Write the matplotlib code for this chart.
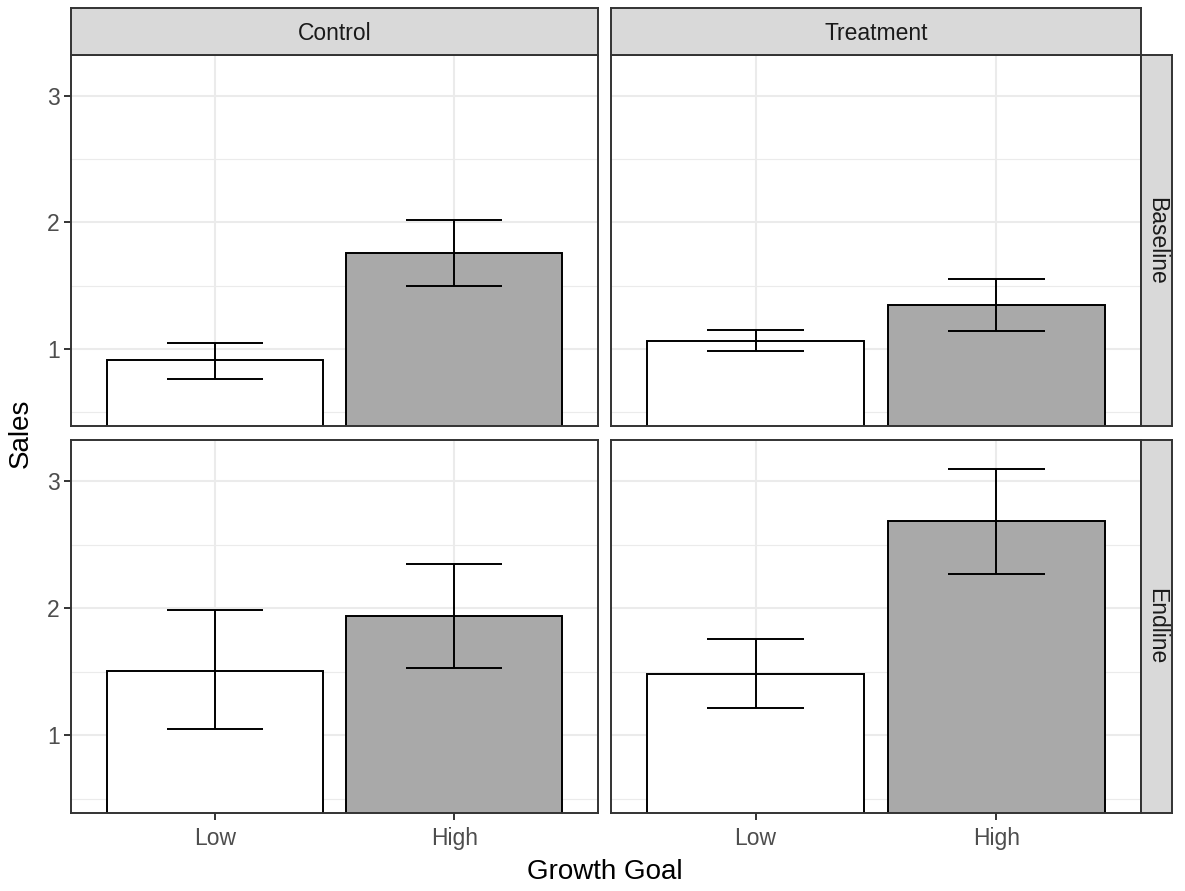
import matplotlib
matplotlib.use("Agg")
import matplotlib.pyplot as plt
import numpy as np

plt.rcParams['font.family'] = ['Liberation Sans', 'DejaVu Sans']

# Data
goals = ["Low", "High"]
groups = ["Control", "Treatment"]
waves = ["Baseline", "Endline"]
yticks = [1, 2, 3]
# means[wave][group] = [Low, High]
means = {
    "Baseline": {"Control": [0.91, 1.76], "Treatment": [1.06, 1.35]},
    "Endline": {"Control": [1.51, 1.94], "Treatment": [1.48, 2.69]},
}
lower = {
    "Baseline": {"Control": [0.76, 1.50], "Treatment": [0.98, 1.14]},
    "Endline": {"Control": [1.05, 1.53], "Treatment": [1.22, 2.27]},
}
upper = {
    "Baseline": {"Control": [1.05, 2.02], "Treatment": [1.15, 1.55]},
    "Endline": {"Control": [1.99, 2.35], "Treatment": [1.76, 3.10]},
}
bar_colors = ["#FFFFFF", "#A9A9A9"]

W, H = 1185, 891
fig = plt.figure(figsize=(W / 100, H / 100), dpi=100)

def ax_px(x0, y0, x1, y1):
    return fig.add_axes([x0 / W, 1 - y1 / H, (x1 - x0) / W, (y1 - y0) / H])

col_x = [(71, 598), (611, 1141)]
row_y = [(55, 426), (440, 813)]
strip_top = (8, 55)
strip_right = (1141, 1172)
border = "#333333"
tickc = "#4D4D4D"
LW = 1.4

ylim = (0.39, 3.325)

for r, wave in enumerate(waves):
    for c, grp in enumerate(groups):
        x0, x1 = col_x[c]
        y0, y1 = row_y[r]
        ax = ax_px(x0, y0, x1, y1)
        ax.set_facecolor("white")
        xs = np.arange(1, len(goals) + 1)
        for yv in [0.5, 1.5, 2.5]:
            ax.axhline(yv, color="#EBEBEB", lw=0.8, zorder=0)
        for yv in yticks:
            ax.axhline(yv, color="#EBEBEB", lw=1.5, zorder=0)
        for xv in xs:
            ax.axvline(xv, color="#EBEBEB", lw=1.5, zorder=0)
        ax.bar(xs, means[wave][grp], width=0.9, color=bar_colors,
               edgecolor="black", linewidth=LW, zorder=2)
        lo = np.array(lower[wave][grp])
        hi = np.array(upper[wave][grp])
        for xi, l, h in zip(xs, lo, hi):
            ax.plot([xi, xi], [l, h], color="black", lw=LW, zorder=3, solid_capstyle="butt")
            ax.plot([xi - 0.2, xi + 0.2], [l, l], color="black", lw=LW, zorder=3, solid_capstyle="butt")
            ax.plot([xi - 0.2, xi + 0.2], [h, h], color="black", lw=LW, zorder=3, solid_capstyle="butt")
        ax.set_xlim(0.4, 2.6)
        ax.set_ylim(*ylim)
        for s in ax.spines.values():
            s.set_color(border)
            s.set_linewidth(LW)
            s.set_zorder(5)
        ax.set_yticks(yticks)
        ax.set_xticks(xs)
        ax.tick_params(colors=border, labelcolor=tickc, labelsize=16.5, length=5, width=LW)
        ax.tick_params(axis="y", pad=3)
        ax.tick_params(axis="x", pad=5)
        if c == 0:
            ax.set_yticklabels([str(v) for v in yticks])
        else:
            ax.set_yticklabels([])
            ax.tick_params(axis="y", length=0)
        if r == 1:
            ax.set_xticklabels(goals)
        else:
            ax.set_xticklabels([])
            ax.tick_params(axis="x", length=0)

# top strips
for c, grp in enumerate(groups):
    x0, x1 = col_x[c]
    sax = ax_px(x0, strip_top[0], x1, strip_top[1])
    sax.set_facecolor("#D9D9D9")
    sax.set_xticks([]); sax.set_yticks([])
    for s in sax.spines.values():
        s.set_color(border); s.set_linewidth(LW)
    sax.text(0.5, 0.5, grp, ha="center", va="center_baseline", fontsize=16.5, color="#1A1A1A",
             transform=sax.transAxes)

# right strips
for r, wave in enumerate(waves):
    y0, y1 = row_y[r]
    sax = ax_px(strip_right[0], y0, strip_right[1], y1)
    sax.set_facecolor("#D9D9D9")
    sax.set_xticks([]); sax.set_yticks([])
    for s in sax.spines.values():
        s.set_color(border); s.set_linewidth(LW)
    sax.text(0.5, 0.5, wave, ha="center", va="center", fontsize=16.5, color="#1A1A1A",
             rotation=-90, transform=sax.transAxes)

fig.text(605 / W, 1 - 872 / H, "Growth Goal", ha="center", va="center",
         fontsize=20, color="black")
fig.text(21 / W, 1 - 433 / H, "Sales", ha="center", va="center", rotation=90,
         fontsize=20, color="black")

fig.savefig("out.png", dpi=100)
